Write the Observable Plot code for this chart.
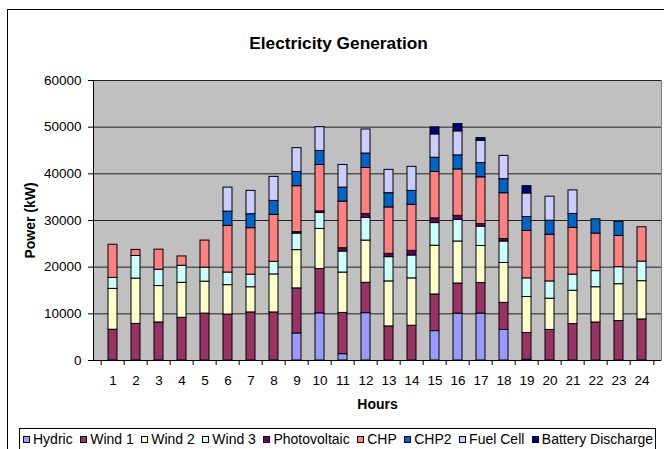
<!DOCTYPE html>
<html>
<head>
<meta charset="utf-8">
<script src="https://cdn.jsdelivr.net/npm/d3@7"></script>
<script src="https://cdn.jsdelivr.net/npm/@observablehq/plot@0.6"></script>
<style>
  html, body { margin: 0; padding: 0; background: #fff; }
  #wrap { position: relative; width: 664px; height: 449px; overflow: hidden; font-family: "Liberation Sans", Arial, sans-serif; }
  #border { position: absolute; left: 7px; top: 9px; width: 700px; height: 500px; border: 1.5px solid #000; box-sizing: border-box; }
  #chart { position: absolute; left: 0; top: 0; }
  #legend { position: absolute; left: 19px; top: 428px; width: 637px; height: 30px; border: 1px solid #000; box-sizing: border-box; background: #fff;
            display: flex; align-items: flex-start; padding: 2px 0 0 3px; font-size: 14px; color: #000; white-space: nowrap; }
  .item { display: flex; align-items: center; height: 16px; margin-right: 7.5px; }
  .sw { width: 5px; height: 5px; border: 1px solid #000; margin-right: 3px; }
</style>
</head>
<body>
<div id="wrap">
  <div id="border"></div>
  <div id="chart"></div>
  <div id="legend"></div>
</div>
<script>
const hours = d3.range(1, 25);
const sources = ["Hydric", "Wind 1", "Wind 2", "Wind 3", "Photovoltaic", "CHP", "CHP2", "Fuel Cell", "Battery Discharge"];
const colors = ["#9999FF", "#993366", "#FFFFCC", "#CCFFFF", "#660066", "#FF8080", "#0066CC", "#CCCCFF", "#000080"];

const hydric = [0,0,0,0,0,0,0,0,5800,10100,1350,10150,0,0,6300,10050,10050,6550,150,0,0,0,0,0];
const wind1  = [6600,7850,8150,9150,10050,9850,10300,10300,9650,9500,8850,6500,7300,7450,7850,6450,6550,5800,5750,6550,7800,8150,8450,8800];
const wind2  = [8750,9700,7800,7500,6850,6300,5400,8150,8200,8600,8650,9050,9650,10150,10450,9000,7950,8550,7700,6700,7150,7550,7900,8200];
const wind3  = [2350,4850,3500,3650,3000,2700,2700,2700,3550,3400,4500,4850,5200,4900,4850,4650,4150,4600,4000,3700,3450,3450,3650,4200];
const pv     = [0,0,0,0,0,0,0,0,300,350,700,850,700,1000,1000,850,550,550,0,0,0,0,0,0];
const chp    = [7100,1300,4300,2000,5800,10000,9950,10050,9850,9950,10000,9850,9950,9850,9950,9950,10000,9800,10150,10000,10000,8050,6700,7350];
const chp2   = [0,0,0,0,0,3050,3000,3000,3050,3000,3000,3100,3050,3000,3050,3000,3050,3000,3000,3000,3000,3050,3000,0];
const fuel   = [0,0,0,0,0,5150,5000,5150,5100,5100,4850,5150,5000,5150,5000,5150,4800,5000,5050,5150,5050,0,0,0];
const batt   = [0,0,0,0,0,0,0,0,0,0,0,0,0,0,1500,1550,550,0,1550,0,0,0,0,0];
const yTicks = [0, 10000, 20000, 30000, 40000, 50000, 60000];

const series = [hydric, wind1, wind2, wind3, pv, chp, chp2, fuel, batt];
const data = [];
hours.forEach((h, i) => {
  series.forEach((s, k) => {
    if (s[i] > 0) data.push({hour: h, source: sources[k], value: s[i]});
  });
});

const W = 664, H = 449, mL = 93, mR = 3, mT = 80, mB = 89;
const step = (W - mL - mR) / hours.length;

const chart = Plot.plot({
  width: W, height: H,
  marginLeft: mL, marginRight: mR, marginTop: mT, marginBottom: mB,
  style: {fontFamily: '"Liberation Sans", Arial, sans-serif', fontSize: "13.5px", color: "#000", background: "transparent"},
  x: {domain: hours, paddingInner: 0.6, paddingOuter: 0.3, label: null},
  y: {domain: [0, 60000], label: null},
  color: {domain: sources, range: colors},
  marks: [
    Plot.frame({fill: "#C0C0C0", stroke: "#808080"}),
    Plot.ruleY(yTicks.filter(d => d > 0), {stroke: "#222", strokeWidth: 1}),
    Plot.barY(data, {x: "hour", y: "value", fill: "source", stroke: "#000", strokeWidth: 1}),
    Plot.frame({anchor: "left", stroke: "#000"}),
    Plot.ruleY([0], {stroke: "#000"}),
    Plot.axisY({ticks: yTicks, tickSize: 5, tickPadding: 7, tickFormat: d => String(d), label: null}),
    Plot.axisX({tickSize: 5, dx: -step / 2, tickFormat: () => "", label: null}),
    Plot.axisX({ticks: [24], tickSize: 5, dx: step / 2, tickFormat: () => "", label: null}),
    Plot.axisX({tickSize: 0, tickPadding: 15, label: null}),
    Plot.text(["Power (kW)"], {frameAnchor: "left", rotate: -90, dx: -63, textAnchor: "middle", lineAnchor: "middle", fontWeight: "bold", fontSize: 14}),
    Plot.text(["Hours"], {frameAnchor: "bottom", dy: 44, textAnchor: "middle", lineAnchor: "middle", fontWeight: "bold", fontSize: 14}),
    Plot.text(["Electricity Generation"], {frameAnchor: "top", dy: -37, dx: -39, textAnchor: "middle", lineAnchor: "middle", fontWeight: "bold", fontSize: 17.3})
  ]
});
document.getElementById("chart").appendChild(chart);

const legend = document.getElementById("legend");
sources.forEach((s, k) => {
  const it = document.createElement("div");
  it.className = "item";
  const sw = document.createElement("div");
  sw.className = "sw";
  sw.style.background = colors[k];
  it.appendChild(sw);
  const t = document.createElement("span");
  t.textContent = s;
  it.appendChild(t);
  legend.appendChild(it);
});
</script>
</body>
</html>
